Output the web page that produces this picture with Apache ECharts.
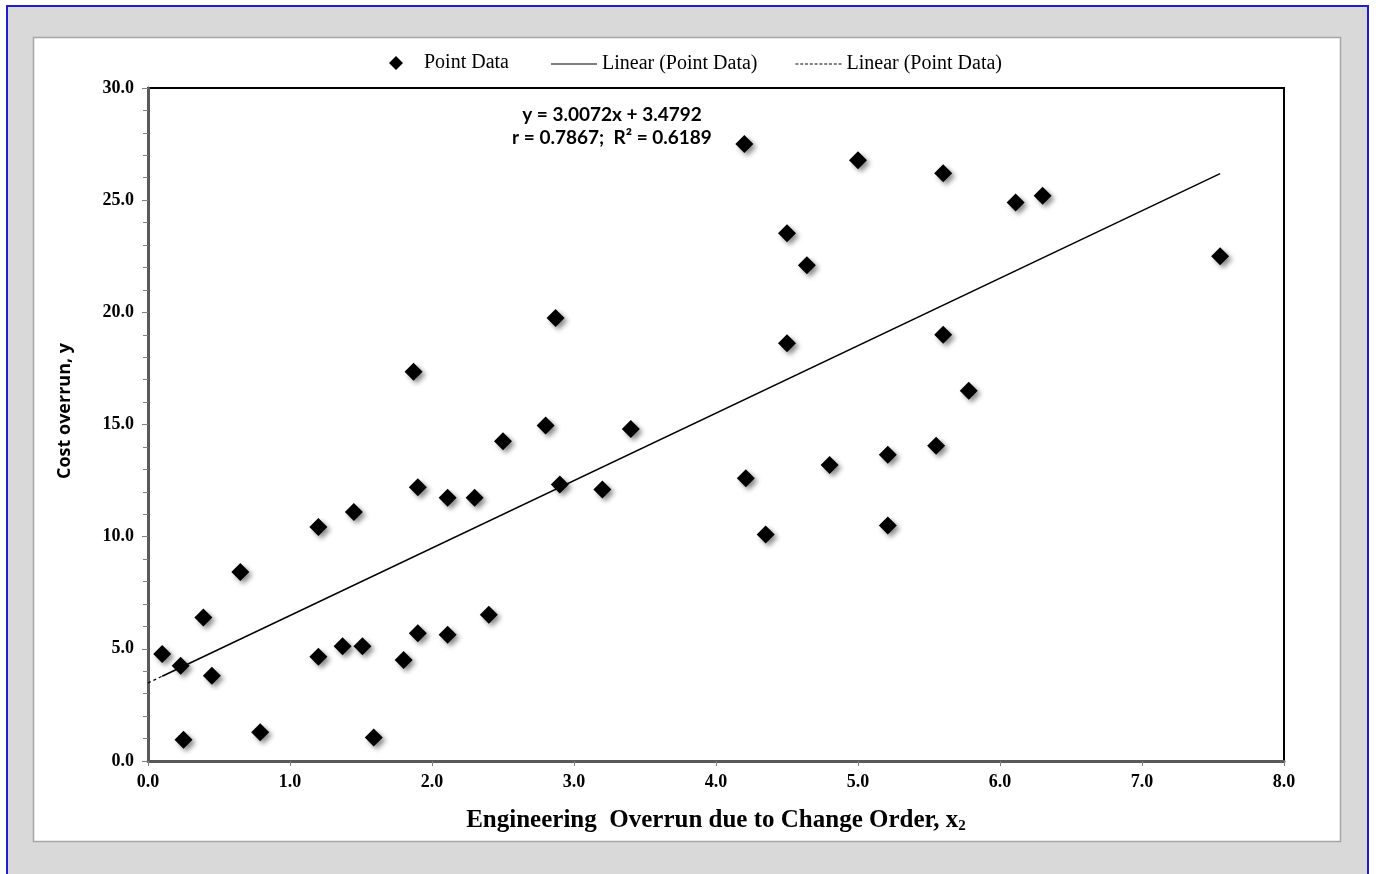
<!DOCTYPE html>
<html>
<head>
<meta charset="utf-8">
<script src="https://cdn.jsdelivr.net/npm/echarts@6/dist/echarts.min.js"></script>
<style>
html,body{margin:0;padding:0;background:#fff;}
#chart{width:1376px;height:874px;}
</style>
</head>
<body>
<div id="chart"></div>
<script>
// ---- data ----
const xValues = [0.10,0.23,0.25,0.39,0.45,0.65,0.79,1.20,1.20,1.37,1.45,1.51,1.59,1.80,1.87,1.90,1.90,2.11,2.11,2.30,2.40,2.50,2.80,2.87,2.90,3.20,3.40,4.20,4.21,4.35,4.50,4.50,4.64,4.80,5.00,5.21,5.21,5.55,5.60,5.60,5.78,6.11,6.30,7.55];
const yValues = [4.77,4.25,0.95,6.40,3.80,8.42,1.28,10.43,4.65,5.12,11.10,5.12,1.05,4.50,17.35,12.20,5.70,11.73,5.63,11.73,6.52,14.25,14.95,19.75,12.32,12.10,14.80,27.50,12.60,10.10,23.52,18.62,22.10,13.20,26.78,13.65,10.50,14.05,26.20,19.00,16.50,24.90,25.20,22.50];
const trendSlope = [3.0072];
const trendIntercept = [3.4792];
const trendR = ['0.7867'];
const trendR2 = ['0.6189'];
const xTicks = [0,1,2,3,4,5,6,7,8];
const yTicks = [0,5,10,15,20,25,30];
const seriesNames = ['Point Data','Linear (Point Data)','Linear (Point Data) '];
const yAxisTitle = 'Cost overrun, y';

// ---- build ----
const points = xValues.map((x,i)=>[x,yValues[i]]);
const xMinData = Math.min(...xValues), xMaxData = Math.max(...xValues);
const f = x => trendSlope[0]*x + trendIntercept[0];
const solidLine = [[xMinData,f(xMinData)],[xMaxData,f(xMaxData)]];
const dashLine = [[xTicks[0],f(xTicks[0])],[xMinData,f(xMinData)]];

const solidIcon = 'path://M0,0h46v1.2h-46z';
let dashParts = [];
for (let p=0; p<46; p+=5) dashParts.push('M'+p+',0h3v1.2h-3z');
const dashIcon = 'path://'+dashParts.join(' ');
const diamondIcon = 'path://M0,7L0.01,7Z M46,7L45.99,7Z M0,0L0.01,0Z M46,14L45.99,14Z M23,0L30,7L23,14L16,7Z';

const serif = '"Liberation Serif","Times New Roman",serif';
const chart = echarts.init(document.getElementById('chart'));
chart.setOption({
  animation:false,
  backgroundColor:'#ffffff',
  graphic:[
    {type:'rect',z:-10,shape:{x:7,y:6,width:1361,height:880},style:{fill:'#d9d9d9',stroke:'#1f1fd0',lineWidth:2}},
    {type:'rect',z:-9,shape:{x:33.5,y:37.5,width:1307,height:804},style:{fill:'#ffffff',stroke:'#a6a6a6',lineWidth:1.5}},
    {type:'text',z:10,x:65,y:411,rotation:Math.PI/2,
     style:{text:yAxisTitle,textAlign:'center',textVerticalAlign:'middle',
       font:'bold 18px "Open Sans","Liberation Sans",sans-serif',fill:'#000'}}
  ],
  title:{
    text:'y = '+trendSlope[0].toFixed(4)+'x + '+trendIntercept[0].toFixed(4)+'\nr = '+trendR[0]+';  R\u00B2 = '+trendR2[0],
    left:607, top:98, textAlign:'center',
    textStyle:{fontFamily:'Lato',fontWeight:'bold',fontSize:19,lineHeight:23,color:'#000'}
  },
  legend:[
    {data:[{name:seriesNames[0],icon:diamondIcon}],left:368,top:48,itemWidth:46,itemHeight:14,
     textStyle:{fontFamily:serif,fontSize:20,color:'#000'}},
    {data:[{name:seriesNames[1],icon:solidIcon},{name:seriesNames[2],icon:dashIcon}],left:546,top:49,itemWidth:46,itemHeight:14,itemGap:38,
     textStyle:{fontFamily:serif,fontSize:20,color:'#000'}}
  ],
  grid:{left:148,top:88,right:92,bottom:113,show:true,borderColor:'#000',borderWidth:2,backgroundColor:'transparent'},
  xAxis:{
    type:'value',min:xTicks[0],max:xTicks[xTicks.length-1],interval:1,
    name:'Engineering  Overrun due to Change Order, x{sub|2}',
    nameLocation:'middle',nameGap:47,
    nameTextStyle:{fontFamily:serif,fontWeight:'bold',fontSize:25,color:'#000',
      rich:{sub:{fontFamily:serif,fontWeight:'bold',fontSize:15,color:'#000',verticalAlign:'bottom',padding:[11,0,0,0]}}},
    axisLine:{show:true,onZero:false,lineStyle:{color:'#595959',width:3}},
    axisTick:{show:true,length:5,lineStyle:{color:'#808080',width:1}},
    axisLabel:{margin:12,fontFamily:serif,fontWeight:'bold',fontSize:18,color:'#000',formatter:v=>v.toFixed(1)},
    splitLine:{show:false}
  },
  yAxis:{
    type:'value',min:yTicks[0],max:yTicks[yTicks.length-1],interval:5,
    axisLine:{show:true,onZero:false,lineStyle:{color:'#595959',width:3}},
    axisTick:{show:true,length:6,lineStyle:{color:'#808080',width:1}},
    minorTick:{show:true,splitNumber:5,length:5,lineStyle:{color:'#808080',width:1}},
    axisLabel:{margin:14,fontFamily:serif,fontWeight:'bold',fontSize:18,color:'#000',formatter:v=>v.toFixed(1)},
    splitLine:{show:false}
  },
  series:[
    {name:seriesNames[0],type:'scatter',data:points,symbol:'diamond',symbolSize:18,z:5,
     itemStyle:{color:'#000',opacity:1,shadowColor:'rgba(0,0,0,0.45)',shadowBlur:5,shadowOffsetX:3,shadowOffsetY:3}},
    {name:seriesNames[1],type:'line',data:solidLine,symbol:'none',z:4,
     lineStyle:{color:'#000',width:1.5,type:'solid'},itemStyle:{color:'#000'}},
    {name:seriesNames[2],type:'line',data:dashLine,symbol:'none',z:4,
     lineStyle:{color:'#000',width:1.2,type:[3,3]},itemStyle:{color:'#000'}}
  ]
});
</script>
</body>
</html>
